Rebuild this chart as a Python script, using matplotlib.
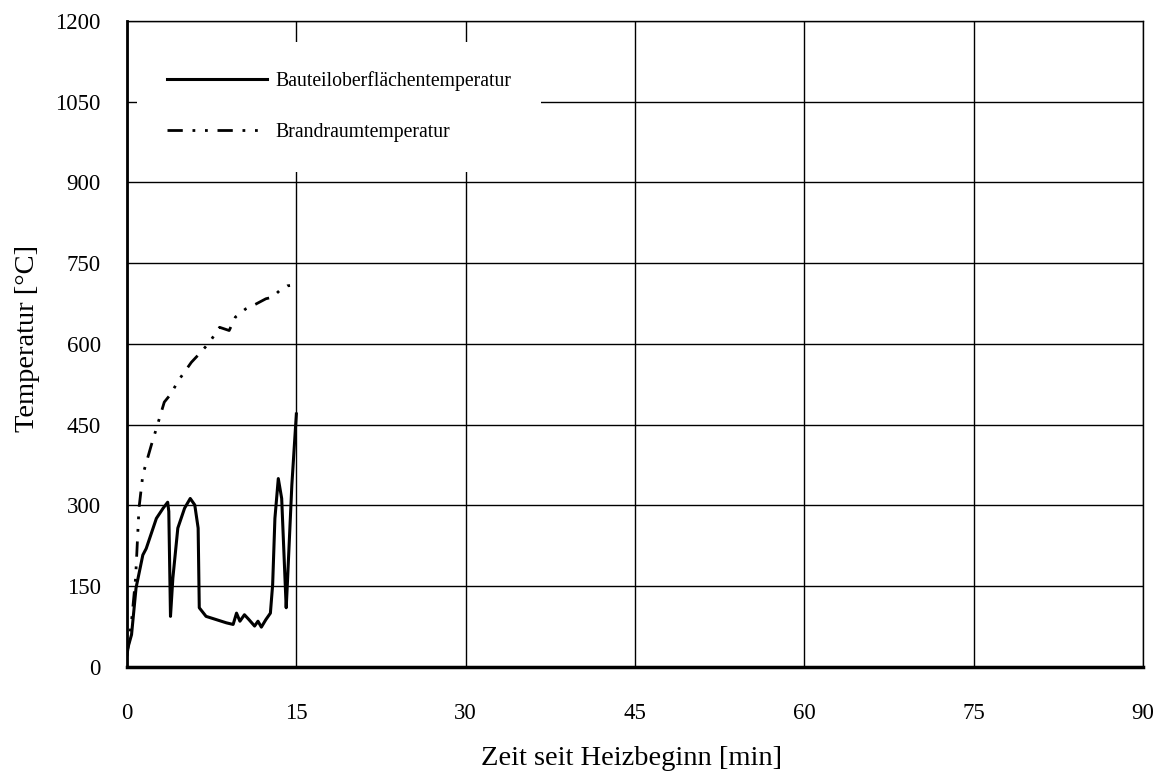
import matplotlib
matplotlib.use("Agg")
import matplotlib.pyplot as plt

# Bauteiloberflächentemperatur (solid)
t_bauteil = [0.0, 0.4, 0.8, 1.4, 1.7, 2.6, 3.2, 3.6, 3.7, 3.85, 4.06, 4.5, 5.1, 5.6,
             6.0, 6.3, 6.4, 7.0, 7.9, 8.8, 9.4, 9.7, 10.0, 10.4, 10.8, 11.3, 11.6,
             11.9, 12.3, 12.7, 12.9, 13.1, 13.4, 13.7, 14.1, 14.2, 14.6, 15.0]
T_bauteil = [30, 60, 147, 208, 220, 276, 295, 306, 289, 94, 165, 258, 295, 313,
             301, 258, 110, 94, 88, 82, 79, 100, 85, 97, 88, 76, 85,
             74, 88, 100, 153, 276, 350, 313, 110, 153, 338, 470]

# Brandraumtemperatur (dash-dot-dot)
t_brand = [0.0, 0.4, 0.76, 1.06, 1.4, 2.15, 2.6, 3.3, 3.8, 4.65, 5.7, 6.55, 7.3,
           8.2, 9.05, 9.6, 10.5, 11.4, 12.3, 12.9, 13.5, 14.2, 15.0]
T_brand = [20, 85, 165, 295, 357, 412, 443, 492, 505, 535, 566, 585, 603,
           631, 625, 650, 665, 674, 684, 687, 699, 708, 710]

x_ticks = [0, 15, 30, 45, 60, 75, 90]
y_ticks = [0, 150, 300, 450, 600, 750, 900, 1050, 1200]

plt.rcParams["font.family"] = ["Liberation Serif", "DejaVu Serif"]

fig = plt.figure(figsize=(11.59, 7.75), dpi=100)
ax = fig.add_axes([0.1096, 0.1394, 0.8766, 0.8335])

ax.plot(t_bauteil, T_bauteil, color="black", lw=2.2, label="Bauteiloberflächentemperatur")
ax.plot(t_brand, T_brand, color="black", lw=2.0, dashes=(5.5, 3.5, 1, 3.5, 1, 3.5),
        label="Brandraumtemperatur")

ax.set_xlim(0, 90)
ax.set_ylim(0, 1200)
ax.set_xticks(x_ticks)
ax.set_yticks(y_ticks)
ax.tick_params(length=0, labelsize=16.5)
ax.tick_params(axis="y", pad=19)
ax.tick_params(axis="x", pad=26)
ax.grid(True, color="black", lw=1.0)
ax.set_axisbelow(True)
ax.spines["left"].set_linewidth(2.0)
ax.spines["bottom"].set_linewidth(2.5)
for side in ["top", "right"]:
    ax.spines[side].set_linewidth(1.0)

ax.set_xlabel("Zeit seit Heizbeginn [min]", fontsize=20.5)
ax.set_ylabel("Temperatur [°C]", fontsize=20.5)
ax.xaxis.set_label_coords(0.497, -0.123)
ax.yaxis.set_label_coords(-0.0856, 0.509)

leg = ax.legend(loc="upper left", bbox_to_anchor=(0.0103, 0.968), fontsize=14.2,
                frameon=True, handlelength=5.07, handletextpad=0.41,
                labelspacing=1.63, borderpad=1.5, borderaxespad=0)
leg.get_frame().set_facecolor("white")
leg.get_frame().set_edgecolor("none")
leg.get_frame().set_alpha(1.0)

fig.savefig("out.png", dpi=100)
